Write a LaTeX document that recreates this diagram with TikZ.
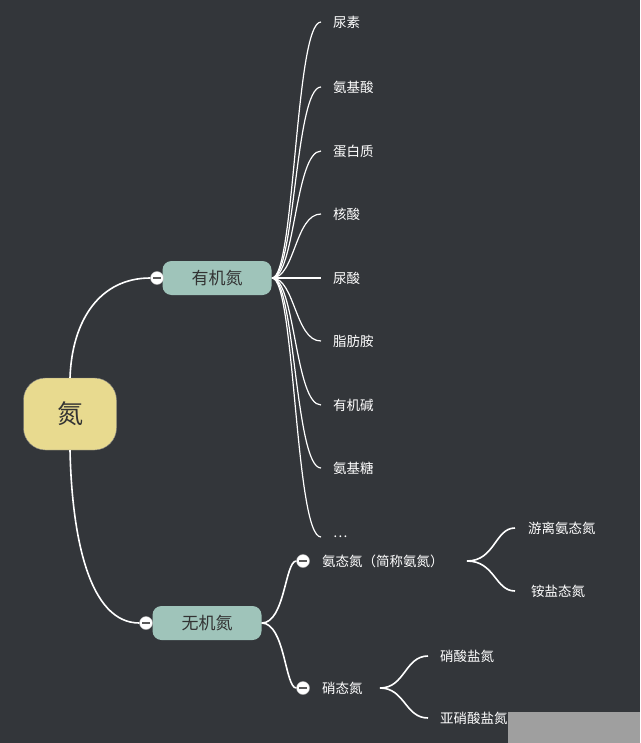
\documentclass[tikz,border=0pt]{standalone}
\usepackage{fontspec}
\setmainfont{Noto Sans CJK SC}
\begin{document}
\begin{tikzpicture}[x=1pt,y=-1pt,
  leaf/.style={anchor=west,text=white,font=\fontsize{13.5}{15}\selectfont,inner sep=0},
  conn/.style={draw=white,line width=1.6pt},
  mid/.style={rounded corners=9pt,fill=midc,text=black!80,font=\fontsize{17}{19}\selectfont,minimum width=109pt,minimum height=34pt,inner sep=0},
  knob/.style={circle,fill=white,draw=gray!60,minimum size=13pt,inner sep=0,
    path picture={\draw[gray!70!black,line width=1.2pt] ([xshift=-4pt]path picture bounding box.center) -- ([xshift=4pt]path picture bounding box.center);}}]
\definecolor{bg}{HTML}{33363A}
\definecolor{midc}{HTML}{9FC4BA}
\definecolor{rootc}{HTML}{E8DA8F}
\fill[bg] (0,0) rectangle (640,743);
\useasboundingbox (0,0) rectangle (640,743);
\node[rounded corners=22pt,fill=rootc,draw=black!50,minimum width=93pt,minimum height=72pt,font=\fontsize{26}{28}\selectfont,text=black!80] (root) at (70,414) {氮};
\node[mid] (org) at (217,278) {有机氮};
\node[mid] (inorg) at (207,623) {无机氮};
\node[knob] (k1) at (157,278) {};
\node[knob] (k2) at (146,623) {};
\draw[conn] (root.north) .. controls (72,320) and (100,278) .. (k1.west);
\draw[conn] (root.south) .. controls (72,540) and (90,623) .. (k2.west);
\coordinate (of) at (272,278);
\foreach \n/\t/\y in {a/尿素/22,b/氨基酸/87,c/蛋白质/151,d/核酸/214,e/尿酸/278,f/脂肪胺/341,g/有机碱/405,h/氨基糖/468,i/{…}/537}{
  \node[leaf] (\n) at (333,\y) {\t};
  \coordinate (\n e) at (321,\y);
  \draw[conn,line width=1.2pt] (of) .. controls (295,278) and (295,\y) .. (\n e);
}
\node[knob] (k3) at (303,561) {};
\node[knob] (k4) at (303,688) {};
\draw[conn] (inorg.east) .. controls (285,623) and (285,561) .. (k3.west);
\draw[conn] (inorg.east) .. controls (285,623) and (285,688) .. (k4.west);
\node[leaf] (am) at (322,561) {氨态氮（简称氨氮）};
\node[leaf] (ni) at (322,688) {硝态氮};
\node[leaf] (am1) at (528,528) {游离氨态氮};
\node[leaf] (am2) at (531,591) {铵盐态氮};
\node[leaf] (ni1) at (440,656) {硝酸盐氮};
\node[leaf] (ni2) at (440,718) {亚硝酸盐氮};
\coordinate (amf) at (467,561);
\coordinate (nif) at (380,688);
\draw[conn] (amf) .. controls (495,561) and (495,528) .. (515,528);
\draw[conn] (amf) .. controls (495,561) and (495,591) .. (515,591);
\draw[conn] (nif) .. controls (405,688) and (405,656) .. (428,656);
\draw[conn] (nif) .. controls (405,688) and (405,718) .. (428,718);
\fill[gray!75] (508,712) rectangle (640,743);
\end{tikzpicture}
\end{document}
